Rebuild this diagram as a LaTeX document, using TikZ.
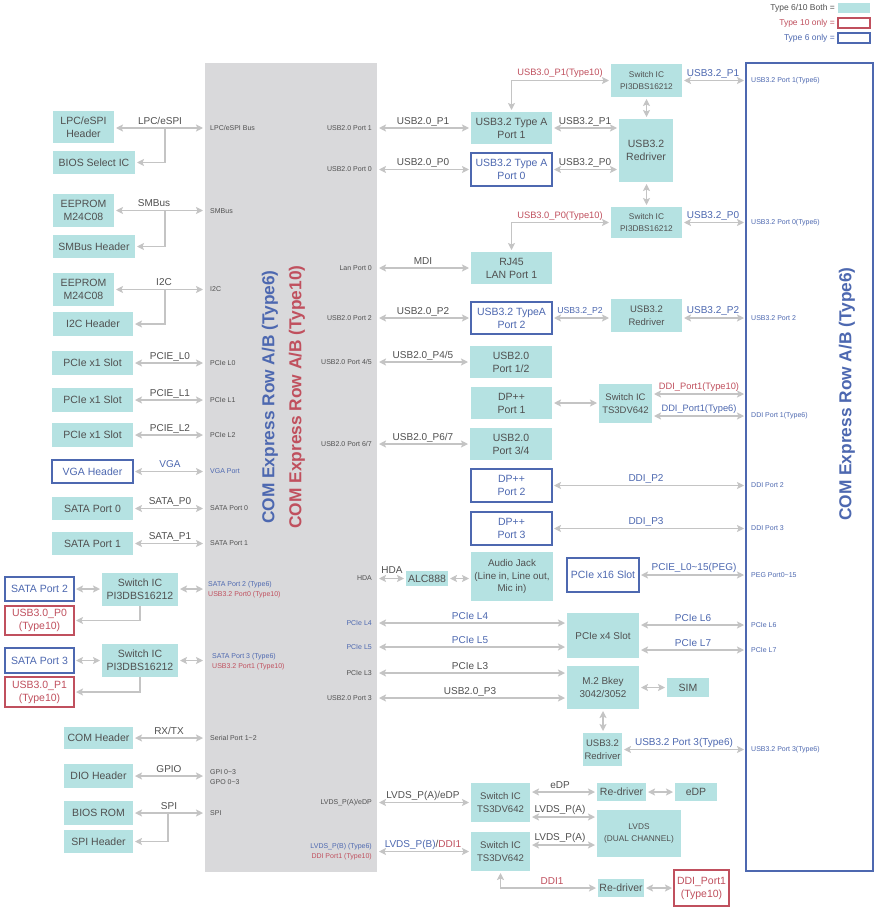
\documentclass[tikz,border=0pt]{standalone}
\usepackage{fontspec}
\setmainfont{Liberation Sans}
\usetikzlibrary{arrows.meta}
\definecolor{tealc}{HTML}{B5E2E2}
\definecolor{bluec}{HTML}{4D68B0}
\definecolor{redc}{HTML}{C0505E}
\definecolor{arrc}{HTML}{C4C4C4}
\definecolor{panelc}{HTML}{D9D9DB}
\definecolor{txtc}{HTML}{505050}
\newcommand{\fsz}[2]{\fontsize{#1}{#2}\selectfont}
\newcommand{\bx}[7]{\node[#1, minimum width={(#4)-(#2)}, minimum height={(#5)-(#3)}] (#6) at ({((#2)+(#4))/2},{((#3)+(#5))/2}) {#7};}
\tikzset{
  tbox/.style={fill=tealc, text=txtc, align=center, inner sep=0pt, outer sep=0pt, font=\fsz{10.5}{13}},
  bbox/.style={draw=bluec, line width=1.6pt, fill=white, text=bluec, align=center, inner sep=0pt, outer sep=0pt, font=\fsz{10.5}{13}},
  rbox/.style={draw=redc, line width=1.6pt, fill=white, text=redc, align=center, inner sep=0pt, outer sep=0pt, font=\fsz{10.5}{13}},
  arr/.style={draw=arrc, line width=1.9pt, {Stealth[length=7pt,width=7pt,inset=1.5pt]}-{Stealth[length=7pt,width=7pt,inset=1.5pt]}, shorten <=2pt, shorten >=2pt},
  arrone/.style={draw=arrc, line width=1.9pt, -{Stealth[length=7pt,width=7pt,inset=1.5pt]}, shorten >=2pt},
  lbl/.style={anchor=base, inner sep=0pt, font=\fsz{10}{12}, text=txtc},
  lblb/.style={lbl, text=bluec},
  lblr/.style={lbl, text=redc},
  pl/.style={anchor=west, inner sep=0pt, font=\fsz{7}{8.5}, text=txtc},
  pr/.style={anchor=east, inner sep=0pt, font=\fsz{7}{8.5}, text=txtc},
  vt/.style={rotate=90, inner sep=0pt, font=\bfseries\fsz{17.3}{19}},
}
\begin{document}
\begin{tikzpicture}[x=1pt,y=-1pt]
\useasboundingbox (0,0) rectangle (876,907);
\fill[white] (0,0) rectangle (876,907);

% legend
\node[anchor=east, inner sep=0pt, font=\fsz{8.5}{10}, text=txtc] (lg1) at (835,8) {Type 6/10 Both =};
\node[anchor=east, inner sep=0pt, font=\fsz{8.5}{10}, text=redc] (lg2) at (835,23) {Type 10 only =};
\node[anchor=east, inner sep=0pt, font=\fsz{8.5}{10}, text=bluec] (lg3) at (835,38) {Type 6 only =};
\bx{tbox}{838}{3}{870}{13}{lgb1}{}
\bx{rbox}{838}{18}{870}{28}{lgb2}{}
\bx{bbox}{838}{33}{870}{43}{lgb3}{}

% panel and right connector
\node[fill=panelc, minimum width=172, minimum height=809, inner sep=0pt, outer sep=0pt] (panel) at (291,467.5) {};
\node[vt, text=bluec] (vt1) at (270,397) {COM Express Row A/B (Type6)};
\node[vt, text=redc] (vt2) at (297,397) {COM Express Row A/B (Type10)};
\node[draw=bluec, line width=1.6pt, minimum width=127, minimum height=808, inner sep=0pt, outer sep=0pt] (comR) at (809.5,467) {};
\node[vt, text=bluec] (vt3) at (847,394) {COM Express Row A/B (Type6)};

% ---------- left side ----------
\bx{tbox}{53}{111}{114}{143}{lpc}{LPC/eSPI\\Header}
\bx{tbox}{53}{151}{135}{174}{bsel}{BIOS Select IC}
\draw[arr] (lpc.east |- 0,128) -- (panel.west |- 0,128);
\node[lbl] (l1) at (160,124) {LPC/eSPI};
\coordinate (b1) at (165,128);
\draw[arrone] (b1) |- (bsel.east);

\bx{tbox}{53}{194}{114}{227}{eep1}{EEPROM\\M24C08}
\bx{tbox}{53}{235}{135}{258}{smbh}{SMBus Header}
\draw[arr] (eep1.east) -- (panel.west |- eep1.east);
\node[lbl] (l2) at (154,206.5) {SMBus};
\coordinate (b2) at (165,210.5);
\draw[arrone] (b2) |- (smbh.east);

\bx{tbox}{53}{273}{114}{306}{eep2}{EEPROM\\M24C08}
\bx{tbox}{53}{312}{133}{336}{i2ch}{I2C Header}
\draw[arr] (eep2.east) -- (panel.west |- eep2.east);
\node[lbl] (l3) at (164,285.5) {I2C};
\coordinate (b3) at (165,289.5);
\draw[arrone] (b3) |- (i2ch.east);

\bx{tbox}{52}{351}{133}{375}{pc0}{PCIe x1 Slot}
\bx{tbox}{52}{388}{133}{412}{pc1}{PCIe x1 Slot}
\bx{tbox}{52}{423}{133}{447}{pc2}{PCIe x1 Slot}
\bx{bbox}{52}{460}{133}{483}{vga}{VGA Header}
\bx{tbox}{52}{497}{133}{520}{sa0}{SATA Port 0}
\bx{tbox}{52}{532}{133}{555}{sa1}{SATA Port 1}
\draw[arr] (pc0.east) -- (panel.west |- pc0.east);
\draw[arr] (pc1.east) -- (panel.west |- pc1.east);
\draw[arr] (pc2.east) -- (panel.west |- pc2.east);
\draw[arr] (vga.east) -- (panel.west |- vga.east);
\draw[arr] (sa0.east) -- (panel.west |- sa0.east);
\draw[arr] (sa1.east) -- (panel.west |- sa1.east);
\node[lbl] (l4) at (170,359) {PCIE\_L0};
\node[lbl] (l5) at (170,396) {PCIE\_L1};
\node[lbl] (l6) at (170,431) {PCIE\_L2};
\node[lblb] (l7) at (170,467.5) {VGA};
\node[lbl] (l8) at (170,504.5) {SATA\_P0};
\node[lbl] (l9) at (170,539.5) {SATA\_P1};

\bx{bbox}{5}{577}{74}{601}{sa2}{SATA Port 2}
\bx{tbox}{102}{573}{178}{606}{swA}{Switch IC\\PI3DBS16212}
\bx{rbox}{5}{606}{74}{635}{u30a}{USB3.0\_P0\\(Type10)}
\draw[arr] (sa2.east) -- (swA.west |- sa2.east);
\draw[arr] (swA.east |- sa2.east) -- (panel.west |- sa2.east);
\draw[arrone] (swA.south) |- (u30a.east);

\bx{bbox}{5}{648}{74}{673}{sa3}{SATA Port 3}
\bx{tbox}{102}{644}{178}{677}{swB}{Switch IC\\PI3DBS16212}
\bx{rbox}{5}{677}{74}{707}{u30b}{USB3.0\_P1\\(Type10)}
\draw[arr] (sa3.east) -- (swB.west |- sa3.east);
\draw[arr] (swB.east |- sa3.east) -- (panel.west |- sa3.east);
\draw[arrone] (swB.south) |- (u30b.east);

\bx{tbox}{64}{727}{133}{749}{comh}{COM Header}
\bx{tbox}{64}{764}{133}{788}{dio}{DIO Header}
\bx{tbox}{64}{801}{133}{825}{bios}{BIOS ROM}
\bx{tbox}{64}{830}{133}{853}{spih}{SPI Header}
\draw[arr] (comh.east) -- (panel.west |- comh.east);
\draw[arr] (dio.east) -- (panel.west |- dio.east);
\draw[arr] (bios.east) -- (panel.west |- bios.east);
\node[lbl] (l10) at (169,734) {RX/TX};
\node[lbl] (l11) at (169,772) {GPIO};
\node[lbl] (l12) at (169,809) {SPI};
\coordinate (b4) at (168,813);
\draw[arrone] (b4) |- (spih.east);

% panel labels, left
\node[pl] (p1) at (210,128) {LPC/eSPI Bus};
\node[pl] (p2) at (210,211) {SMBus};
\node[pl] (p3) at (210,289.5) {I2C};
\node[pl] (p4) at (210,363) {PCIe L0};
\node[pl] (p5) at (210,400) {PCIe L1};
\node[pl] (p6) at (210,435) {PCIe L2};
\node[pl, text=bluec] (p7) at (210,471.5) {VGA Port};
\node[pl] (p8) at (210,508.5) {SATA Port 0};
\node[pl] (p9) at (210,543.5) {SATA Port 1};
\node[pl, text=bluec] (p10) at (208,585) {SATA Port 2 (Type6)};
\node[pl, text=redc] (p11) at (208,594.5) {USB3.2 Port0 (Type10)};
\node[pl, text=bluec] (p12) at (212,657) {SATA Port 3 (Type6)};
\node[pl, text=redc] (p13) at (212,666.5) {USB3.2 Port1 (Type10)};
\node[pl] (p14) at (210,738) {Serial Port 1\textasciitilde2};
\node[pl] (p15) at (210,772) {GPI 0\textasciitilde3};
\node[pl] (p16) at (210,782) {GPO 0\textasciitilde3};
\node[pl] (p17) at (210,813) {SPI};

% panel labels, right
\node[pr] (q1) at (372,128) {USB2.0 Port 1};
\node[pr] (q2) at (372,169.5) {USB2.0 Port 0};
\node[pr] (q3) at (372,268) {Lan Port 0};
\node[pr] (q4) at (372,318) {USB2.0 Port 2};
\node[pr] (q5) at (372,362) {USB2.0 Port 4/5};
\node[pr] (q6) at (372,444) {USB2.0 Port 6/7};
\node[pr] (q7) at (372,578) {HDA};
\node[pr, text=bluec] (q8) at (372,623) {PCIe L4};
\node[pr, text=bluec] (q9) at (372,647) {PCIe L5};
\node[pr] (q10) at (372,673) {PCIe L3};
\node[pr] (q11) at (372,698) {USB2.0 Port 3};
\node[pr] (q12) at (372,802.5) {LVDS\_P(A)/eDP};
\node[pr, text=bluec] (q13) at (372,847) {LVDS\_P(B) (Type6)};
\node[pr, text=redc] (q14) at (372,857) {DDI Port1 (Type10)};

% ---------- center column ----------
\bx{tbox}{471}{112}{552}{144}{tA1}{USB3.2 Type A\\Port 1}
\bx{bbox}{471}{153}{552}{186}{tA0}{USB3.2 Type A\\Port 0}
\bx{tbox}{471}{252}{552}{284}{rj}{RJ45\\LAN Port 1}
\bx{bbox}{471}{302}{552}{334}{tA2}{USB3.2 TypeA\\Port 2}
\bx{tbox}{470}{346}{552}{378}{u12}{USB2.0\\Port 1/2}
\bx{tbox}{471}{387}{552}{419}{dp1}{DP++\\Port 1}
\bx{tbox}{470}{428}{552}{460}{u34}{USB2.0\\Port 3/4}
\bx{bbox}{471}{469}{552}{502}{dp2}{DP++\\Port 2}
\bx{bbox}{471}{512}{552}{545}{dp3}{DP++\\Port 3}
\draw[arr] (panel.east |- tA1.west) -- (tA1.west);
\draw[arr] (panel.east |- tA0.west) -- (tA0.west);
\draw[arr] (panel.east |- rj.west) -- (rj.west);
\draw[arr] (panel.east |- tA2.west) -- (tA2.west);
\draw[arr] (panel.east |- u12.west) -- (u12.west);
\draw[arr] (panel.east |- u34.west) -- (u34.west);
\node[lbl] (m1) at (423,124) {USB2.0\_P1};
\node[lbl] (m2l) at (423,165.5) {USB2.0\_P0};
\node[lbl] (m3) at (423,264) {MDI};
\node[lbl] (m4) at (423,314) {USB2.0\_P2};
\node[lbl] (m5) at (423,358) {USB2.0\_P4/5};
\node[lbl] (m6) at (423,440) {USB2.0\_P6/7};

% top right
\bx{tbox, font=\fsz{8.3}{11.5}}{611}{64}{682}{97}{swT}{Switch IC\\PI3DBS16212}
\bx{tbox}{619}{119}{673}{182}{rd1}{USB3.2\\Redriver}
\bx{tbox, font=\fsz{8.3}{11.5}}{611}{207}{682}{238}{swM}{Switch IC\\PI3DBS16212}
\draw[arr] (tA1.north) |- (swT.west);
\node[lblr, font=\fsz{9.3}{11}] (m7) at (560,75.5) {USB3.0\_P1(Type10)};
\draw[arr] (swT.south) -- (swT.south |- rd1.north);
\draw[arr] (tA1.east) -- (rd1.west |- tA1.east);
\draw[arr] (tA0.east) -- (rd1.west |- tA0.east);
\node[lbl] (m8) at (585,124) {USB3.2\_P1};
\node[lbl] (m9) at (585,165) {USB3.2\_P0};
\draw[arr] (swM.north |- rd1.south) -- (swM.north);
\draw[arr] (rj.north) |- (swM.west);
\node[lblr, font=\fsz{9.3}{11}] (m10) at (560,218) {USB3.0\_P0(Type10)};
\draw[arr] (swT.east) -- (comR.west |- swT.east);
\draw[arr] (swM.east) -- (comR.west |- swM.east);
\node[lblb] (m11) at (713,76) {USB3.2\_P1};
\node[lblb] (m12) at (713,218.5) {USB3.2\_P0};
\node[pl, text=bluec] (r1) at (751,80.5) {USB3.2 Port 1(Type6)};
\node[pl, text=bluec] (r2) at (751,222.5) {USB3.2 Port 0(Type6)};

\bx{tbox, font=\fsz{9.5}{12.5}}{611}{299}{682}{332}{rd2}{USB3.2\\Redriver}
\draw[arr] (tA2.east) -- (rd2.west |- tA2.east);
\node[lblb, font=\fsz{8.7}{10}] (m13) at (580,313) {USB3.2\_P2};
\draw[arr] (rd2.east |- tA2.east) -- (comR.west |- tA2.east);
\node[lblb] (m14) at (713,313) {USB3.2\_P2};
\node[pl, text=bluec] (r3) at (751,318) {USB3.2 Port 2};

\bx{tbox, font=\fsz{9.5}{13}}{599}{384}{652}{423}{swD}{Switch IC\\TS3DV642}
\draw[arr] (dp1.east) -- (swD.west |- dp1.east);
\draw[arr] (swD.east |- 0,394) -- (comR.west |- 0,394);
\draw[arr] (swD.east |- 0,416) -- (comR.west |- 0,416);
\node[lblr, font=\fsz{9.3}{11}] (m15) at (699,389.5) {DDI\_Port1(Type10)};
\node[lblb, font=\fsz{9.3}{11}] (m16) at (699,411.5) {DDI\_Port1(Type6)};
\node[pl, text=bluec] (r4) at (751,416) {DDI Port 1(Type6)};

\draw[arr] (dp2.east) -- (comR.west |- dp2.east);
\draw[arr] (dp3.east) -- (comR.west |- dp3.east);
\node[lblb] (m17) at (646,481.5) {DDI\_P2};
\node[lblb] (m18) at (646,524.5) {DDI\_P3};
\node[pl, text=bluec] (r5) at (751,485.5) {DDI Port 2};
\node[pl, text=bluec] (r6) at (751,528.5) {DDI Port 3};

% audio / pcie
\bx{tbox}{406}{571}{448}{586}{alc}{ALC888}
\bx{tbox, font=\fsz{9.8}{12.5}}{471}{552}{553}{601}{aud}{Audio Jack\\(Line in, Line out,\\Mic in)}
\draw[arr] (panel.east |- alc.west) -- (alc.west);
\node[lbl] (m19) at (392,573) {HDA};
\draw[arr] (alc.east) -- (aud.west |- alc.east);

\bx{bbox}{567}{558}{639}{592}{x16}{PCIe x16 Slot}
\draw[arr] (x16.east) -- (comR.west |- x16.east);
\node[lblb] (m20) at (694,570.5) {PCIE\_L0\textasciitilde15(PEG)};
\node[pl, text=bluec] (r7) at (751,575) {PEG Port0\textasciitilde15};

\bx{tbox, font=\fsz{9.9}{12}}{567}{613}{639}{658}{x4}{PCIe x4 Slot}
\bx{tbox, font=\fsz{9.9}{13}}{567}{666}{639}{709}{mtwo}{M.2 Bkey\\3042/3052}
\bx{tbox}{667}{678}{709}{697}{sim}{SIM}
\bx{tbox, font=\fsz{9.5}{12.5}}{583}{733}{622}{766}{rd3}{USB3.2\\Redriver}
\draw[arr] (panel.east |- 0,623) -- (x4.west |- 0,623);
\draw[arr] (panel.east |- 0,647) -- (x4.west |- 0,647);
\draw[arr] (panel.east |- 0,673) -- (mtwo.west |- 0,673);
\draw[arr] (panel.east |- 0,698) -- (mtwo.west |- 0,698);
\node[lblb] (m21) at (470,619) {PCIe L4};
\node[lblb] (m22) at (470,643) {PCIe L5};
\node[lbl] (m23) at (470,669) {PCIe L3};
\node[lbl] (m24) at (470,694) {USB2.0\_P3};
\draw[arr] (x4.east |- 0,625) -- (comR.west |- 0,625);
\draw[arr] (x4.east |- 0,650) -- (comR.west |- 0,650);
\node[lblb] (m25) at (693,621) {PCIe L6};
\node[lblb] (m26) at (693,646) {PCIe L7};
\node[pl, text=bluec] (r8) at (751,625) {PCIe L6};
\node[pl, text=bluec] (r9) at (751,650) {PCIe L7};
\draw[arr] (mtwo.east |- sim.west) -- (sim.west);
\draw[arr] (mtwo.south |- 0,709) -- (mtwo.south |- rd3.north);
\draw[arr] (rd3.east) -- (comR.west |- rd3.east);
\node[lblb] (m27) at (684,745.5) {USB3.2 Port 3(Type6)};
\node[pl, text=bluec] (r10) at (751,749.5) {USB3.2 Port 3(Type6)};

% bottom
\bx{tbox, font=\fsz{9.6}{13}}{471}{783}{530}{822}{swE}{Switch IC\\TS3DV642}
\bx{tbox, font=\fsz{9.6}{13}}{471}{832}{530}{871}{swF}{Switch IC\\TS3DV642}
\bx{tbox}{597}{783}{646}{801}{rdv1}{Re-driver}
\bx{tbox}{675}{783}{717}{801}{edp}{eDP}
\bx{tbox, font=\fsz{8.3}{12}}{597}{810}{681}{857}{lvds}{LVDS\\(DUAL CHANNEL)}
\bx{tbox}{598}{879}{644}{897}{rdv2}{Re-driver}
\bx{rbox}{674}{870}{729}{906}{ddi}{DDI\_Port1\\(Type10)}
\draw[arr] (panel.east |- swE.west) -- (swE.west);
\node[lbl] (m28) at (423,798) {LVDS\_P(A)/eDP};
\draw[arr] (swE.east |- rdv1.west) -- (rdv1.west);
\node[lbl] (m29) at (560,788) {eDP};
\draw[arr] (rdv1.east) -- (edp.west);
\draw[arr] (swE.east |- 0,817) -- (lvds.west |- 0,817);
\node[lbl] (m30) at (560,812.5) {LVDS\_P(A)};
\draw[arr] (swF.east |- 0,845) -- (lvds.west |- 0,845);
\node[lbl] (m31) at (560,840.5) {LVDS\_P(A)};
\draw[arr] (panel.east |- swF.west) -- (swF.west);
\node[lbl] (m32) at (423,847) {\textcolor{bluec}{LVDS\_P(B)}/\textcolor{redc}{DDI1}};
\draw[arr] (swF.south) |- (rdv2.west);
\node[lblr] (m33) at (552,884) {DDI1};
\draw[arr] (rdv2.east) -- (ddi.west);
\end{tikzpicture}
\end{document}
